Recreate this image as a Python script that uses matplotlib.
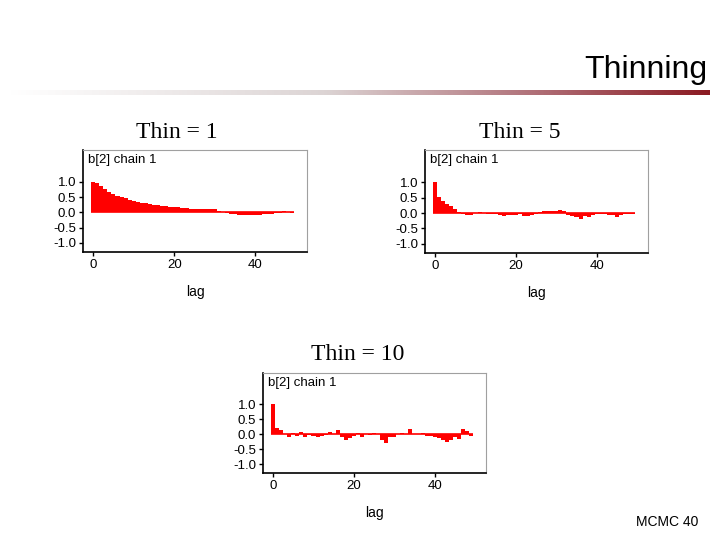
import numpy as np
import matplotlib
matplotlib.use("Agg")
import matplotlib.pyplot as plt
from matplotlib.colors import LinearSegmentedColormap

plt.rcParams["font.family"] = ["Liberation Sans", "DejaVu Sans"]

# 自相关值（lag 0..49）
lags = list(range(50))
acf_thin1 = [1.0, 0.97, 0.88, 0.78, 0.68, 0.6, 0.54, 0.5, 0.46, 0.42,
             0.38, 0.35, 0.32, 0.3, 0.28, 0.26, 0.24, 0.22, 0.2, 0.19,
             0.18, 0.17, 0.15, 0.13, 0.11, 0.11, 0.1, 0.1, 0.1, 0.1,
             0.1, 0.06, 0.02, -0.03, -0.04, -0.05, -0.07, -0.08, -0.08, -0.08,
             -0.08, -0.07, -0.06, -0.05, -0.04, -0.03, -0.01, 0.04, 0.03, -0.01]
acf_thin5 = [1.0, 0.53, 0.39, 0.3, 0.22, 0.13, 0.04, -0.03, -0.07, -0.07,
             0.0, 0.02, 0.0, -0.02, -0.03, -0.03, -0.08, -0.1, -0.08, -0.06,
             -0.05, -0.03, -0.1, -0.1, -0.05, -0.02, 0.02, 0.05, 0.07, 0.07,
             0.07, 0.1, 0.05, -0.05, -0.1, -0.12, -0.18, -0.1, -0.12, -0.06,
             -0.03, -0.02, -0.03, -0.06, -0.08, -0.12, -0.05, -0.03, -0.03, -0.04]
acf_thin10 = [1.0, 0.22, 0.15, 0.0, -0.08, 0.05, -0.05, 0.06, -0.1, -0.03,
              -0.05, -0.08, -0.07, -0.03, 0.08, 0.0, 0.13, -0.1, -0.18, -0.12,
              -0.05, 0.05, -0.1, 0.0, -0.03, 0.03, 0.0, -0.18, -0.3, -0.1,
              -0.08, 0.0, 0.05, 0.0, 0.17, 0.0, 0.0, 0.05, -0.05, -0.07,
              -0.1, -0.12, -0.2, -0.25, -0.18, -0.08, -0.15, 0.18, 0.12, -0.05]

yticks = [-1.0, -0.5, 0.0, 0.5, 1.0]
xticks = [0, 20, 40]

RED = "#ff0000"

fig = plt.figure(figsize=(7.2, 5.4), dpi=100)
fig.patch.set_facecolor("white")


def px(left, top, right, bottom):
    """像素框 -> figure 坐标"""
    return [left / 720, 1 - bottom / 540, (right - left) / 720, (bottom - top) / 540]


def acf_panel(rect, vals, heading, heading_xy):
    ax = fig.add_axes(rect)
    # 每个 lag 一格宽的阶梯填充，整块无缝
    edges = np.arange(len(lags) + 1) - 0.5
    ax.stairs(vals, edges, baseline=0, fill=True, color=RED, lw=0)
    ax.hlines(0, edges[0], edges[-1], color=RED, lw=1.2)
    ax.set_xlim(-2.5, 52.7)
    ax.set_ylim(-1.3, 2.05)
    ax.set_yticks(yticks)
    ax.set_yticklabels([f"{v:.1f}" for v in yticks])
    ax.set_xticks(xticks)
    ax.tick_params(labelsize=9.5, length=3, width=1, direction="out", pad=2)
    for s in ["top", "right"]:
        ax.spines[s].set_color("#a0a0a0")
        ax.spines[s].set_linewidth(0.8)
    for s in ["left", "bottom"]:
        ax.spines[s].set_color("black")
        ax.spines[s].set_linewidth(1.2)
    ax.set_xlabel("lag", fontsize=10, labelpad=10)
    ax.text(0.022, 0.9, "b[2] chain 1", transform=ax.transAxes,
            fontsize=9.5, va="center", ha="left")
    fig.text(heading_xy[0] / 720, 1 - heading_xy[1] / 540, heading,
             family="Liberation Serif", fontsize=17, ha="center", va="center")
    return ax


acf_panel(px(83, 150, 307, 252), acf_thin1, "Thin = 1", (177, 133))
acf_panel(px(425, 150, 648, 253), acf_thin5, "Thin = 5", (520, 133))
acf_panel(px(263, 373, 486, 473), acf_thin10, "Thin = 10", (358, 354))

# ---- 标题与渐变分隔线 ----
fig.text(707 / 720, 1 - 70 / 540, "Thinning", fontsize=23, ha="right", va="center")
bar_ax = fig.add_axes(px(10, 90, 710, 95))
cmap = LinearSegmentedColormap.from_list(
    "band", [(0.0, "#ffffff"), (0.45, "#dcd4d4"), (0.75, "#b07078"), (1.0, "#8b1a22")])
bar_ax.imshow(np.linspace(0, 1, 256)[None, :], aspect="auto", cmap=cmap)
bar_ax.axis("off")

fig.text(667 / 720, 1 - 522 / 540, "MCMC 40", fontsize=10, ha="center", va="center")

fig.savefig("out.png", dpi=100)
